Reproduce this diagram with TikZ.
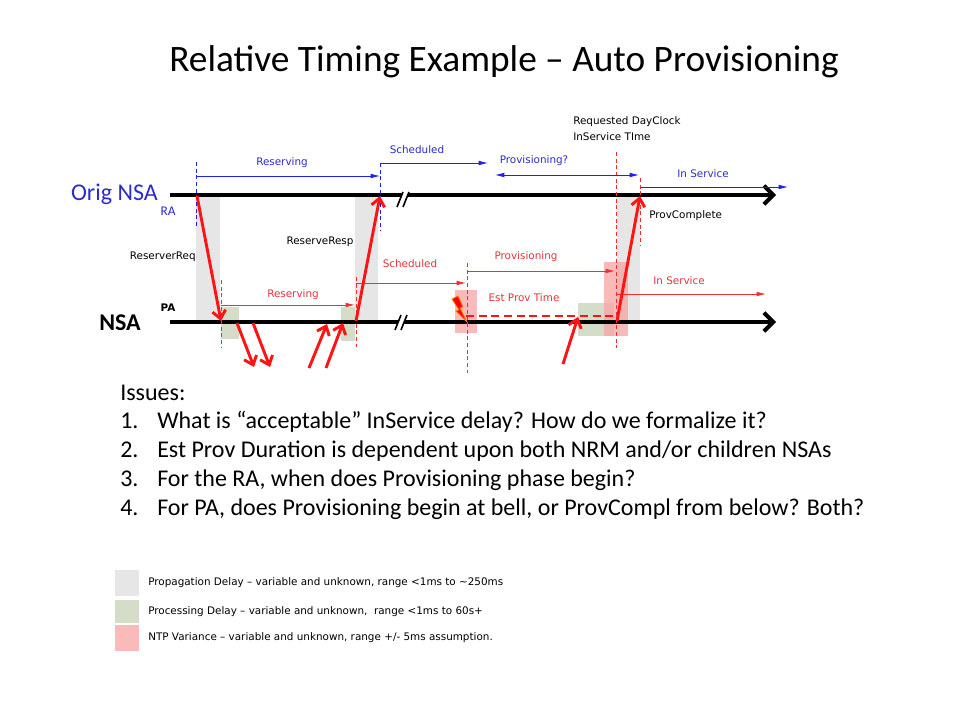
\documentclass[tikz,border=0pt]{standalone}
\usepackage{fontspec}
\setmainfont{Carlito}
\newfontfamily\labelfont{DejaVu Sans}
\usetikzlibrary{arrows.meta}
\definecolor{txtBlue}{HTML}{2B2BCF}
\definecolor{lineBlue}{HTML}{2020F0}
\definecolor{msgRed}{HTML}{FF1414}
\definecolor{lineRed}{HTML}{F03030}
\definecolor{txtRed}{HTML}{E0363C}
\definecolor{propGray}{HTML}{E6E6E6}
\definecolor{procGreen}{HTML}{D5DCC7}
\definecolor{ntpPink}{HTML}{F7A3A3}

\begin{document}
\begin{tikzpicture}[x=0.75pt,y=-0.75pt,
    lbl/.style={font=\labelfont\fontsize{7.8}{9}\selectfont,inner sep=0pt},
    issue/.style={anchor=base west,inner sep=0pt,font=\fontsize{18}{22}\selectfont},
    axis/.style={line width=3pt,-{Straight Barb[length=7pt,width=14pt]}},
    msg/.style={draw=msgRed,line width=2.2pt,-{Straight Barb[length=6pt,width=10pt]}},
    span/.style={line width=0.6pt,-{Latex[length=7pt,width=3.5pt]}},
    guide/.style={line width=0.6pt,dash pattern=on 3pt off 2pt},
    brk/.style={line width=1.2pt},
    prop/.style={fill=propGray},
    proc/.style={fill=procGreen},
    ntp/.style={fill=ntpPink,fill opacity=0.75}]
  \useasboundingbox[fill=white] (0,0) rectangle (960,720);
  \node[font=\fontsize{28}{34}\selectfont] (title) at (504,62) {Relative Timing Example – Auto Provisioning};
  % delay boxes
  \fill[prop] (196,195) rectangle (220,322);
  \fill[prop] (355,195) rectangle (378,322);
  \fill[prop] (617,195) rectangle (640,322);
  \fill[proc] (221,307) rectangle (239,339);
  \fill[proc] (341,307) rectangle (355,341);
  \fill[proc] (578,303) rectangle (614,336);
  \fill[ntp] (455,290) rectangle (477,333);
  \fill[ntp] (604,262) rectangle (628,336);
  % time lines
  \coordinate (origL) at (170,195); \coordinate (origR) at (776,195);
  \coordinate (nsaL) at (170,322); \coordinate (nsaR) at (776,322);
  \draw[axis] (origL) -- (origR);
  \draw[axis] (nsaL) -- (nsaR);
  \fill[white] (397,207) -- (403,192) -- (409,192) -- (403,207) -- cycle;
  \draw[brk] (397,207) -- (403,192) (403,207) -- (409,192);
  \fill[white] (395,330) -- (401,315) -- (407,315) -- (401,330) -- cycle;
  \draw[brk] (395,330) -- (401,315) (401,330) -- (407,315);
  \node[font=\fontsize{18}{22}\selectfont,text=txtBlue,anchor=east,inner sep=0pt] (orig) at (158,194) {Orig NSA};
  \node[font=\fontsize{10}{12}\selectfont,text=txtBlue,inner sep=0pt] (ra) at (168,211) {RA};
  \node[font=\bfseries\fontsize{18}{22}\selectfont,anchor=east,inner sep=0pt] (nsa) at (141,323) {NSA};
  \node[lbl,font=\labelfont\bfseries\fontsize{7.8}{9}\selectfont] (pa) at (168,308) {PA};
  % guides
  \draw[guide,lineBlue] (196,162) -- (196,228);
  \draw[guide,lineBlue] (380,163) -- (380,231);
  \draw[guide,lineRed] (640,178) -- (640,245);
  \draw[guide,lineRed] (616,152) -- (616,348);
  \draw[guide,lineRed] (221,280) -- (221,348);
  \draw[guide,lineRed] (356,277) -- (356,347);
  \draw[guide,lineRed] (467,263) -- (467,373);
  % RA phases
  \coordinate (bResA) at (196,176); \coordinate (bResB) at (380,176);
  \coordinate (bSchA) at (381,163); \coordinate (bSchB) at (488,163);
  \coordinate (bPrvA) at (495,175); \coordinate (bPrvB) at (639,175);
  \coordinate (bInsA) at (641,187); \coordinate (bInsB) at (788,187);
  \draw[span,lineBlue] (bResA) -- (bResB);
  \draw[span,lineBlue] (bSchA) -- (bSchB);
  \draw[span,lineBlue,{Latex[length=7pt,width=3.5pt]}-{Latex[length=7pt,width=3.5pt]}] (bPrvA) -- (bPrvB);
  \draw[span,lineBlue] (bInsA) -- (bInsB);
  \node[lbl,text=txtBlue] (bResL) at (282,163) {Reserving};
  \node[lbl,text=txtBlue] (bSchL) at (417,150) {Scheduled};
  \node[lbl,text=txtBlue] (bPrvL) at (534,161) {Provisioning?};
  \node[lbl,text=txtBlue] (bInsL) at (703,174) {In Service};
  % PA phases
  \coordinate (rResA) at (221,305); \coordinate (rResB) at (355,305);
  \coordinate (rSchA) at (356,283); \coordinate (rSchB) at (466,283);
  \coordinate (rPrvA) at (467,271); \coordinate (rPrvB) at (615,271);
  \coordinate (rInsA) at (617,294); \coordinate (rInsB) at (766,294);
  \coordinate (estA) at (466,316); \coordinate (estB) at (616,316);
  \draw[span,lineRed] (rResA) -- (rResB);
  \draw[span,lineRed] (rSchA) -- (rSchB);
  \draw[span,lineRed] (rPrvA) -- (rPrvB);
  \draw[span,lineRed] (rInsA) -- (rInsB);
  \draw[msgRed,line width=2pt,dash pattern=on 6pt off 3.5pt] (estA) -- (estB);
  \node[lbl,text=txtRed] (rResL) at (293,295) {Reserving};
  \node[lbl,text=txtRed] (rSchL) at (410,264) {Scheduled};
  \node[lbl,text=txtRed] (rPrvL) at (526,257) {Provisioning};
  \node[lbl,text=txtRed] (rInsL) at (679,281) {In Service};
  \node[lbl,text=txtRed] (estL) at (524,298) {Est Prov Time};
  \filldraw[fill=red,draw=orange,line width=0.6pt] (452,299) -- (458,296) -- (463,307) -- (460,308) -- (467,322) -- (456,311) -- (459,310) -- cycle;
  % messages
  \coordinate (reqA) at (197,196); \coordinate (reqB) at (221,321);
  \coordinate (rspA) at (356,321); \coordinate (rspB) at (380,196);
  \coordinate (pcA) at (617,321); \coordinate (pcB) at (640,196);
  \draw[msg] (reqA) -- (reqB);
  \draw[msg] (rspA) -- (rspB);
  \draw[msg] (pcA) -- (pcB);
  \coordinate (dn1A) at (237,323); \coordinate (dn1B) at (254,367);
  \coordinate (dn2A) at (253,323); \coordinate (dn2B) at (270,367);
  \coordinate (up1A) at (309,368); \coordinate (up1B) at (327,324);
  \coordinate (up2A) at (326,368); \coordinate (up2B) at (343,323);
  \coordinate (up3A) at (563,364); \coordinate (up3B) at (578,317);
  \draw[msg] (dn1A) -- (dn1B);
  \draw[msg] (dn2A) -- (dn2B);
  \draw[msg] (up1A) -- (up1B);
  \draw[msg] (up2A) -- (up2B);
  \draw[msg] (up3A) -- (up3B);
  \node[lbl,anchor=east] (reqL) at (196,257) {ReserverReq};
  \node[lbl] (rspL) at (320,242) {ReserveResp};
  \node[lbl,anchor=west] (pcL) at (649,216) {ProvComplete};
  \node[lbl,anchor=west,align=left,font=\labelfont\fontsize{7.8}{12}\selectfont] (dayL) at (573,129) {Requested DayClock\\InService TIme};
  % issues
  \node[issue] (iss) at (120,400) {Issues:};
  \node[issue] (n1) at (120,428) {1.};
  \node[issue] (t1) at (157,428) {What is “acceptable” InService delay? How do we formalize it?};
  \node[issue] (n2) at (120,457) {2.};
  \node[issue] (t2) at (157,457) {Est Prov Duration is dependent upon both NRM and/or children NSAs};
  \node[issue] (n3) at (120,486) {3.};
  \node[issue] (t3) at (157,486) {For the RA, when does Provisioning phase begin?};
  \node[issue] (n4) at (120,515) {4.};
  \node[issue] (t4) at (157,515) {For PA, does Provisioning begin at bell, or ProvCompl from below? Both?};
  % legend
  \fill[prop] (115,570) rectangle (139,596);
  \fill[proc] (115,600) rectangle (139,623);
  \fill[ntp] (115,625) rectangle (139,651);
  \node[lbl,anchor=west] (legProp) at (148,583) {Propagation Delay – variable and unknown, range <1ms to \textasciitilde 250ms};
  \node[lbl,anchor=west] (legProc) at (148,612) {Processing Delay – variable and unknown, \ range <1ms to 60s+};
  \node[lbl,anchor=west] (legNtp) at (148,638) {NTP Variance – variable and unknown, range +/- 5ms assumption.};
\end{tikzpicture}
\end{document}
